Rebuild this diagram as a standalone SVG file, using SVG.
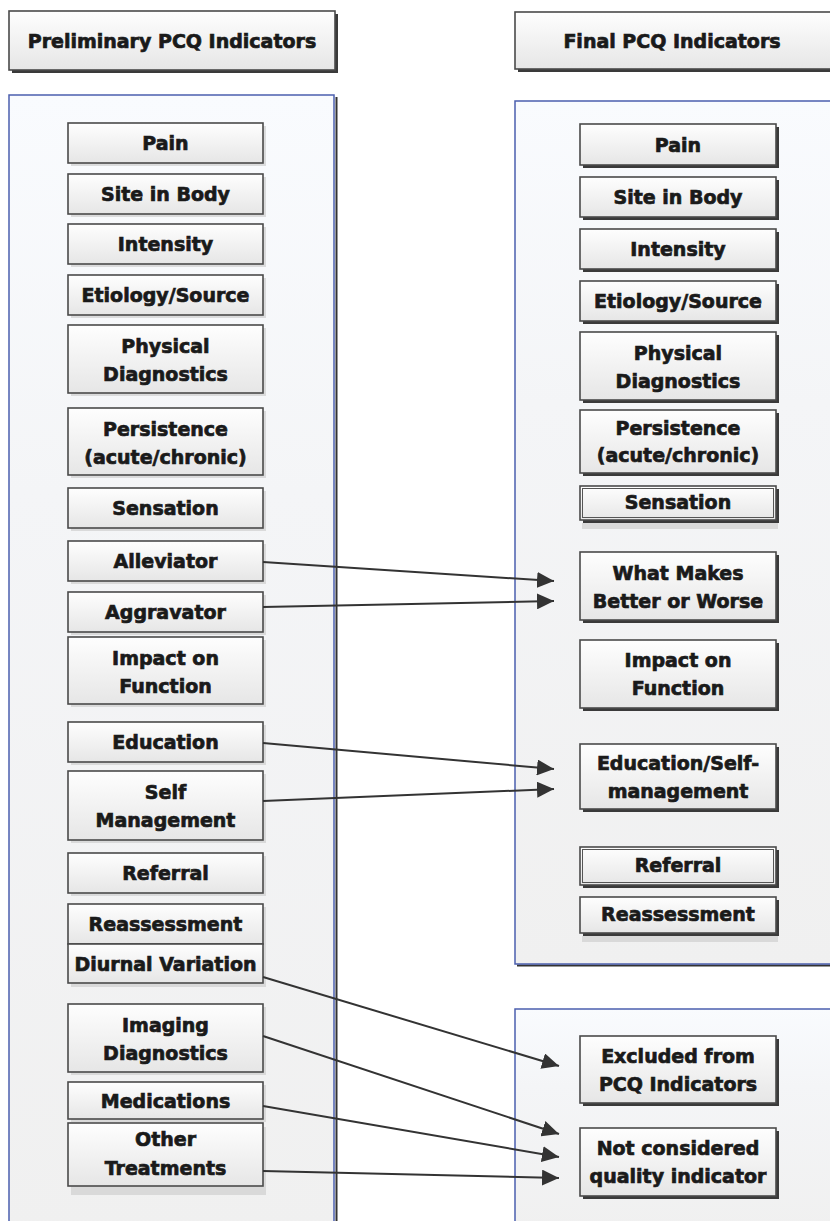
<svg xmlns="http://www.w3.org/2000/svg" width="830" height="1221" viewBox="0 0 830 1221">
<defs>
<linearGradient id="gNode" x1="0" y1="0" x2="0" y2="1">
<stop offset="0" stop-color="#fefefe"/>
<stop offset="1" stop-color="#e6e6e6"/>
</linearGradient>
<linearGradient id="gPanel" x1="0" y1="0" x2="0" y2="1">
<stop offset="0" stop-color="#f9fbfe"/>
<stop offset="0.35" stop-color="#f4f5f7"/>
<stop offset="1" stop-color="#f0f0f0"/>
</linearGradient>
<marker id="ah" markerUnits="userSpaceOnUse" markerWidth="17" markerHeight="16" refX="17" refY="8" orient="auto">
<path d="M0,0 L17,8 L0,16 z" fill="#333"/>
</marker>
<style>
.node{fill:url(#gNode);stroke:#4a4a4a;stroke-width:1.6}
.inner{fill:none;stroke:#555;stroke-width:1}
.shL{fill:#cfcfcf;opacity:0.7}
.shR{fill:#3a3a3a}
.panel{fill:url(#gPanel);stroke:#4b5fae;stroke-width:1.5}
.t{font-family:"DejaVu Sans","Liberation Sans",sans-serif;font-weight:bold;font-size:19px;text-anchor:middle;fill:#1a1a1a;stroke:#1a1a1a;stroke-width:0.7}
.conn{stroke:#333;stroke-width:2;fill:none;marker-end:url(#ah)}
</style>
</defs>
<rect width="830" height="1221" fill="#ffffff"/>

<!-- headers -->
<g id="hdr-left">
<rect class="shR" x="12" y="14" width="326" height="59"/>
<rect class="node" x="9" y="11" width="326" height="59"/>
<text class="t" x="172" y="48">Preliminary PCQ Indicators</text>
</g>
<g id="hdr-right">
<rect class="shR" x="518" y="15" width="320" height="57"/>
<rect class="node" x="515" y="12" width="320" height="57"/>
<text class="t" x="672" y="48">Final PCQ Indicators</text>
</g>

<!-- panels -->
<g id="panel-left">
<rect x="335.5" y="97" width="2" height="1130" fill="#333"/>
<rect class="panel" x="9" y="95" width="325" height="1135"/>
</g>
<g id="panel-right-top">
<rect x="517" y="964.5" width="320" height="2" fill="#333"/>
<rect class="panel" x="515" y="101" width="320" height="863"/>
</g>
<g id="panel-right-bottom">
<rect class="panel" x="515" y="1009" width="320" height="220"/>
</g>

<!-- left nodes -->
<g id="l-pain"><rect class="shL" x="71" y="126" width="195" height="40"/><rect class="node" x="68" y="123" width="195" height="40"/><text class="t" x="165.5" y="150">Pain</text></g>
<g id="l-site"><rect class="shL" x="71" y="177" width="195" height="40"/><rect class="node" x="68" y="174" width="195" height="40"/><text class="t" x="165.5" y="201">Site in Body</text></g>
<g id="l-intensity"><rect class="shL" x="71" y="227" width="195" height="40"/><rect class="node" x="68" y="224" width="195" height="40"/><text class="t" x="165.5" y="251">Intensity</text></g>
<g id="l-etiology"><rect class="shL" x="71" y="278" width="195" height="40"/><rect class="node" x="68" y="275" width="195" height="40"/><text class="t" x="165.5" y="302">Etiology/Source</text></g>
<g id="l-physical"><rect class="shL" x="71" y="328" width="195" height="68"/><rect class="node" x="68" y="325" width="195" height="68"/><text class="t" x="165.5" y="353">Physical<tspan x="165.5" dy="27.5">Diagnostics</tspan></text></g>
<g id="l-persistence"><rect class="shL" x="71" y="411" width="195" height="67"/><rect class="node" x="68" y="408" width="195" height="67"/><text class="t" x="165.5" y="436">Persistence<tspan x="165.5" dy="27.5">(acute/chronic)</tspan></text></g>
<g id="l-sensation"><rect class="shL" x="71" y="491" width="195" height="40"/><rect class="node" x="68" y="488" width="195" height="40"/><text class="t" x="165.5" y="515">Sensation</text></g>
<g id="l-alleviator"><rect class="shL" x="71" y="544" width="195" height="40"/><rect class="node" x="68" y="541" width="195" height="40"/><text class="t" x="165.5" y="568">Alleviator</text></g>
<g id="l-aggravator"><rect class="shL" x="71" y="595" width="195" height="40"/><rect class="node" x="68" y="592" width="195" height="40"/><text class="t" x="165.5" y="619">Aggravator</text></g>
<g id="l-impact"><rect class="shL" x="71" y="640" width="195" height="67"/><rect class="node" x="68" y="637" width="195" height="67"/><text class="t" x="165.5" y="665">Impact on<tspan x="165.5" dy="28">Function</tspan></text></g>
<g id="l-education"><rect class="shL" x="71" y="725" width="195" height="40"/><rect class="node" x="68" y="722" width="195" height="40"/><text class="t" x="165.5" y="749">Education</text></g>
<g id="l-self"><rect class="shL" x="71" y="774" width="195" height="69"/><rect class="node" x="68" y="771" width="195" height="69"/><text class="t" x="165.5" y="799">Self<tspan x="165.5" dy="28">Management</tspan></text></g>
<g id="l-referral"><rect class="shL" x="71" y="856" width="195" height="40"/><rect class="node" x="68" y="853" width="195" height="40"/><text class="t" x="165.5" y="880">Referral</text></g>
<g id="l-reassessment"><rect class="shL" x="71" y="907" width="195" height="40"/><rect class="node" x="68" y="904" width="195" height="40"/><text class="t" x="165.5" y="931">Reassessment</text></g>
<g id="l-diurnal"><rect class="shL" x="71" y="947" width="195" height="40"/><rect class="node" x="68" y="944" width="195" height="39"/><text class="t" x="165.5" y="971">Diurnal Variation</text></g>
<g id="l-imaging"><rect class="shL" x="71" y="1007" width="195" height="68"/><rect class="node" x="68" y="1004" width="195" height="68"/><text class="t" x="165.5" y="1032">Imaging<tspan x="165.5" dy="28">Diagnostics</tspan></text></g>
<g id="l-medications"><rect class="shL" x="71" y="1085" width="195" height="37"/><rect class="node" x="68" y="1082" width="195" height="37"/><text class="t" x="165.5" y="1108">Medications</text></g>
<g id="l-other"><rect class="shL" x="71" y="1127" width="195" height="68"/><rect class="node" x="68" y="1123" width="195" height="63"/><text class="t" x="165.5" y="1146">Other<tspan x="165.5" dy="29">Treatments</tspan></text></g>

<!-- right nodes -->
<g id="r-pain"><rect class="shR" x="583" y="127" width="196" height="41"/><rect class="node" x="580" y="124" width="196" height="41"/><text class="t" x="678" y="152">Pain</text></g>
<g id="r-site"><rect class="shR" x="583" y="180" width="196" height="40"/><rect class="node" x="580" y="177" width="196" height="40"/><text class="t" x="678" y="204">Site in Body</text></g>
<g id="r-intensity"><rect class="shR" x="583" y="232" width="196" height="40"/><rect class="node" x="580" y="229" width="196" height="40"/><text class="t" x="678" y="256">Intensity</text></g>
<g id="r-etiology"><rect class="shR" x="583" y="284" width="196" height="40"/><rect class="node" x="580" y="281" width="196" height="40"/><text class="t" x="678" y="308">Etiology/Source</text></g>
<g id="r-physical"><rect class="shR" x="583" y="335" width="196" height="68"/><rect class="node" x="580" y="332" width="196" height="68"/><text class="t" x="678" y="360">Physical<tspan x="678" dy="27.5">Diagnostics</tspan></text></g>
<g id="r-persistence"><rect class="shR" x="583" y="413" width="196" height="63"/><rect class="node" x="580" y="410" width="196" height="63"/><text class="t" x="678" y="435">Persistence<tspan x="678" dy="27">(acute/chronic)</tspan></text></g>
<g id="r-sensation"><rect class="shL" x="582" y="523" width="196" height="6"/><rect class="shR" x="583" y="489" width="196" height="34"/><rect class="node" x="580" y="486" width="196" height="34"/><rect class="inner" x="582.5" y="488.5" width="191" height="29"/><text class="t" x="678" y="509">Sensation</text></g>
<g id="r-whatmakes"><rect class="shR" x="583" y="555" width="196" height="68"/><rect class="node" x="580" y="552" width="196" height="68"/><text class="t" x="678" y="580">What Makes<tspan x="678" dy="27.5">Better or Worse</tspan></text></g>
<g id="r-impact"><rect class="shR" x="583" y="643" width="196" height="68"/><rect class="node" x="580" y="640" width="196" height="68"/><text class="t" x="678" y="667">Impact on<tspan x="678" dy="28">Function</tspan></text></g>
<g id="r-education"><rect class="shR" x="583" y="747" width="196" height="65"/><rect class="node" x="580" y="744" width="196" height="65"/><text class="t" x="678" y="770">Education/Self-<tspan x="678" dy="27.5">management</tspan></text></g>
<g id="r-referral"><rect class="shR" x="583" y="850" width="196" height="38"/><rect class="node" x="580" y="847" width="196" height="38"/><rect class="inner" x="582.5" y="849.5" width="191" height="33"/><text class="t" x="678" y="872">Referral</text></g>
<g id="r-reassessment"><rect class="shL" x="582" y="936" width="196" height="6"/><rect class="shR" x="583" y="900" width="196" height="36"/><rect class="node" x="580" y="897" width="196" height="36"/><text class="t" x="678" y="921">Reassessment</text></g>
<g id="r-excluded"><rect class="shR" x="583" y="1039" width="196" height="67"/><rect class="node" x="580" y="1036" width="196" height="67"/><text class="t" x="678" y="1063">Excluded from<tspan x="678" dy="28">PCQ Indicators</tspan></text></g>
<g id="r-notconsidered"><rect class="shR" x="583" y="1131" width="196" height="68"/><rect class="node" x="580" y="1128" width="196" height="68"/><text class="t" x="678" y="1155">Not considered<tspan x="678" dy="28">quality indicator</tspan></text></g>

<!-- connectors -->
<g id="connectors">
<line class="conn" x1="263" y1="562" x2="554" y2="581"/>
<line class="conn" x1="263" y1="607" x2="554" y2="601"/>
<line class="conn" x1="263" y1="743" x2="554" y2="769"/>
<line class="conn" x1="263" y1="801" x2="554" y2="789"/>
<line class="conn" x1="263" y1="977" x2="559" y2="1066"/>
<line class="conn" x1="263" y1="1036" x2="559" y2="1134"/>
<line class="conn" x1="263" y1="1106" x2="559" y2="1157"/>
<line class="conn" x1="263" y1="1171" x2="559" y2="1178"/>
</g>
</svg>
